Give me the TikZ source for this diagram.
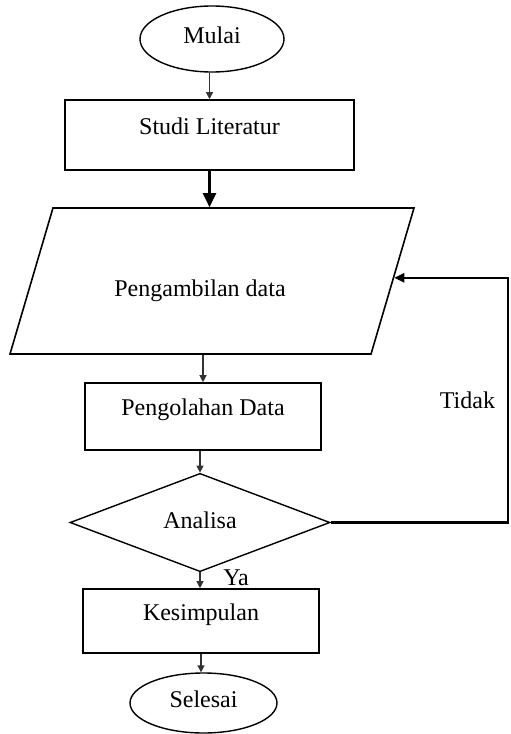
\documentclass[tikz,border=0pt]{standalone}
\usepackage{fontspec}
\setmainfont{Liberation Serif}
\usetikzlibrary{positioning,shapes.geometric,arrows.meta}

\tikzset{
  box/.style   ={draw, line width=0.8pt, rectangle, inner sep=0pt, text height=9pt, text depth=10pt},
  term/.style  ={draw, line width=0.7pt, ellipse, inner sep=0pt, text height=9pt, text depth=5pt},
  io/.style    ={draw, line width=0.8pt, trapezium, trapezium left angle=73.6, trapezium right angle=106.4,
                 trapezium stretches body=true, inner sep=0pt, text height=44pt, text depth=29pt},
  cek/.style   ={draw, line width=0.7pt, diamond, inner sep=0pt, text height=9pt, text depth=3.5pt},
  arr/.style   ={-{Triangle[length=3.5pt,width=3.5pt]}, line width=0.6pt, draw=black!80},
  tebal/.style ={-{Triangle[length=7pt,width=6.5pt]}, line width=1.2pt},
  fb/.style    ={-{Triangle[length=5pt,width=4.5pt]}, line width=1.3pt}
}

\begin{document}
\begin{tikzpicture}[x=0.5pt, y=-0.5pt, every node/.style={font=\fontsize{12}{14}\selectfont}]
 \useasboundingbox (0,0) rectangle (510,734);

 \node[term, minimum width=72pt,   minimum height=33pt,   name=Mulai  ] at (212,39)     {Mulai};
 \node[box,  minimum width=144.5pt,minimum height=35pt,   name=Studi  ] at (209.5,135)  {Studi Literatur};
 \node[io,   minimum width=202pt,  minimum height=73pt,   name=Ambil  ] at (212,281)    {Pengambilan data\hspace*{12pt}};
 \node[box,  minimum width=118pt,  minimum height=33.5pt, name=Olah   ] at (203,416.5)  {Pengolahan Data};
 \node[cek,  minimum width=130pt,  minimum height=40.5pt, name=Analisa] at (200,522.5)  {Analisa};
 \node[box,  minimum width=118pt,  minimum height=32pt,   name=Simpul ] at (201,621)    {Kesimpulan};
 \node[term, minimum width=73.5pt, minimum height=30pt,   name=Selesai] at (203.5,703)  {Selesai};
 \coordinate (Kanan) at (508,520);

 \draw[arr]   (Studi.north |- Mulai.south)  -- (Studi.north);
 \draw[tebal] (Studi.south)                 -- (Studi.south |- Ambil.north);
 \draw[arr]   (Olah.north |- Ambil.south)   -- (Olah.north);
 \draw[arr]   (Analisa.north |- Olah.south) -- (Analisa.north);
 \draw[arr]   (Analisa.south) -- (Analisa.south |- Simpul.north) node[pos=0.35, right=8pt, text=black] {Ya};
 \draw[arr]   (Simpul.south)  -- (Simpul.south |- Selesai.north);
 \draw[fb]    (Analisa.east)  -- (Analisa.east -| Kanan) |- (Ambil.1.3) node[pos=0.25, left=2.5pt] {Tidak};
\end{tikzpicture}
\end{document}
